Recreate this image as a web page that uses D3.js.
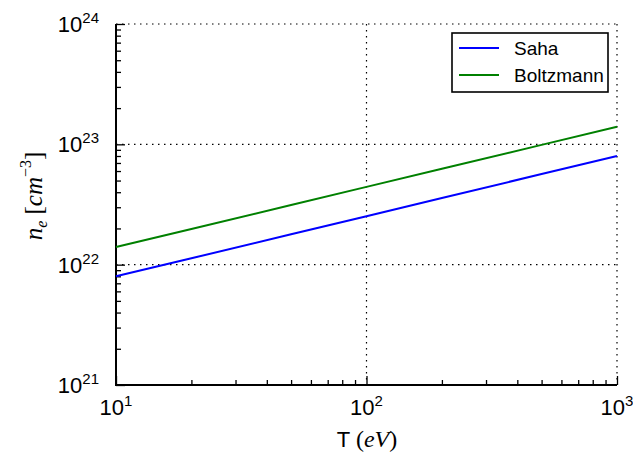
<!DOCTYPE html>
<html>
<head>
<meta charset="utf-8">
<script src="https://cdn.jsdelivr.net/npm/d3@7"></script>
<style>
  html, body { margin: 0; padding: 0; background: #fff; }
  svg { display: block; }
  text { font-family: "Liberation Sans", Arial, sans-serif; fill: #000; }
  .math { font-family: "Liberation Serif", "DejaVu Serif", serif; font-style: italic; }
  .rm { font-family: "Liberation Serif", "DejaVu Serif", serif; font-style: normal; }
</style>
</head>
<body>
<svg id="chart" width="633" height="459"></svg>
<script>
// ---- data ----
const temperatures = [10, 20, 50, 100, 200, 500, 1000];
const sahaValues = [8.0e21, 1.13e22, 1.79e22, 2.53e22, 3.58e22, 5.66e22, 8.0e22];
const boltzmannValues = [1.4e22, 1.98e22, 3.13e22, 4.43e22, 6.26e22, 9.9e22, 1.4e23];
const seriesNames = ["Saha", "Boltzmann"];
const seriesColors = ["#0000ff", "#008000"];
const xTickExponents = [1, 2, 3];
const yTickExponents = [21, 22, 23, 24];

const svg = d3.select("#chart");
const L = 116, R = 617, T = 24, B = 385;

const x = d3.scaleLog().domain([10, 1000]).range([L, R]);
const y = d3.scaleLog().domain([1e21, 1e24]).range([B, T]);

const xMajor = xTickExponents.map(e => Math.pow(10, e));
const yMajor = yTickExponents.map(e => Math.pow(10, e));
const xMinor = x.ticks().filter(v => !xMajor.some(m => Math.abs(m - v) / m < 1e-9));
const yMinor = y.ticks().filter(v => !yMajor.some(m => Math.abs(m - v) / m < 1e-9));

// grid (dotted)
const grid = svg.append("g");
grid.selectAll("line.gx").data(xMajor).join("line")
  .attr("x1", d => x(d)).attr("x2", d => x(d)).attr("y1", T).attr("y2", B)
  .attr("stroke", "#000").attr("stroke-width", 1.2).attr("stroke-dasharray", "1.5,4.5");
grid.selectAll("line.gy").data(yMajor).join("line")
  .attr("y1", d => y(d)).attr("y2", d => y(d)).attr("x1", L).attr("x2", R)
  .attr("stroke", "#000").attr("stroke-width", 1.2).attr("stroke-dasharray", "1.5,4.5");

// axes ticks (inward)
function styleAxis(g) {
  g.select(".domain").remove();
  g.selectAll(".tick line").attr("stroke", "#000").attr("stroke-width", 1.3);
  g.selectAll(".tick text").remove();
}
svg.append("g").attr("transform", `translate(0,${B})`)
  .call(d3.axisBottom(x).tickValues(xMajor).tickSize(-9)).call(styleAxis);
svg.append("g").attr("transform", `translate(0,${B})`)
  .call(d3.axisBottom(x).tickValues(xMinor).tickSize(-5)).call(styleAxis);
svg.append("g").attr("transform", `translate(${L},0)`)
  .call(d3.axisLeft(y).tickValues(yMajor).tickSize(-9)).call(styleAxis);
svg.append("g").attr("transform", `translate(${L},0)`)
  .call(d3.axisLeft(y).tickValues(yMinor).tickSize(-5)).call(styleAxis);

// spines (left and bottom)
svg.append("path")
  .attr("d", `M${L},${T}V${B}H${R}`)
  .attr("fill", "none").attr("stroke", "#000").attr("stroke-width", 2);

// tick labels
const xl = svg.append("g");
xTickExponents.forEach(e => {
  const t = xl.append("text").attr("x", x(Math.pow(10, e))).attr("y", 415)
    .attr("text-anchor", "middle").attr("font-size", 22);
  t.append("tspan").text("10");
  t.append("tspan").attr("dy", -9).attr("font-size", 15).text(e);
});
const yl = svg.append("g");
yTickExponents.forEach(e => {
  const t = yl.append("text").attr("x", 99).attr("y", y(Math.pow(10, e)) + 8)
    .attr("text-anchor", "end").attr("font-size", 22);
  t.append("tspan").text("10");
  t.append("tspan").attr("dy", -9).attr("font-size", 15).text(e);
});

// lines
const line = d3.line().x(d => x(d[0])).y(d => y(d[1]));
const allSeries = [sahaValues, boltzmannValues];
allSeries.forEach((vals, i) => {
  svg.append("path")
    .datum(temperatures.map((t, j) => [t, vals[j]]))
    .attr("d", line).attr("fill", "none")
    .attr("stroke", seriesColors[i]).attr("stroke-width", 2);
});

// legend
const lg = svg.append("g");
lg.append("rect").attr("x", 452).attr("y", 33).attr("width", 156).attr("height", 59)
  .attr("fill", "#fff").attr("stroke", "#000").attr("stroke-width", 1.6);
seriesNames.forEach((n, i) => {
  const yy = 48 + i * 27;
  lg.append("line").attr("x1", 459).attr("x2", 499).attr("y1", yy).attr("y2", yy)
    .attr("stroke", seriesColors[i]).attr("stroke-width", 2);
  lg.append("text").attr("x", 514).attr("y", yy + 7).attr("font-size", 19).text(n);
});

// axis titles
const xt = svg.append("text").attr("x", 367).attr("y", 447).attr("text-anchor", "middle").attr("font-size", 22);
xt.append("tspan").text("T ");
xt.append("tspan").attr("class", "rm").attr("font-size", 24).text("(");
xt.append("tspan").attr("class", "math").attr("font-size", 24).text("eV");
xt.append("tspan").attr("class", "rm").attr("font-size", 24).text(")");

const yt = svg.append("text").attr("transform", "translate(42,196) rotate(-90)")
  .attr("text-anchor", "middle").attr("font-size", 25);
yt.append("tspan").attr("class", "math").text("n");
yt.append("tspan").attr("class", "math").attr("font-size", 16).attr("dy", 5).text("e");
yt.append("tspan").attr("class", "rm").attr("dy", -5).text(" [");
yt.append("tspan").attr("class", "math").text("cm");
yt.append("tspan").attr("class", "rm").attr("font-size", 16).attr("dy", -11).text("\u22123");
yt.append("tspan").attr("class", "rm").attr("dy", 11).text("]");
</script>
</body>
</html>
